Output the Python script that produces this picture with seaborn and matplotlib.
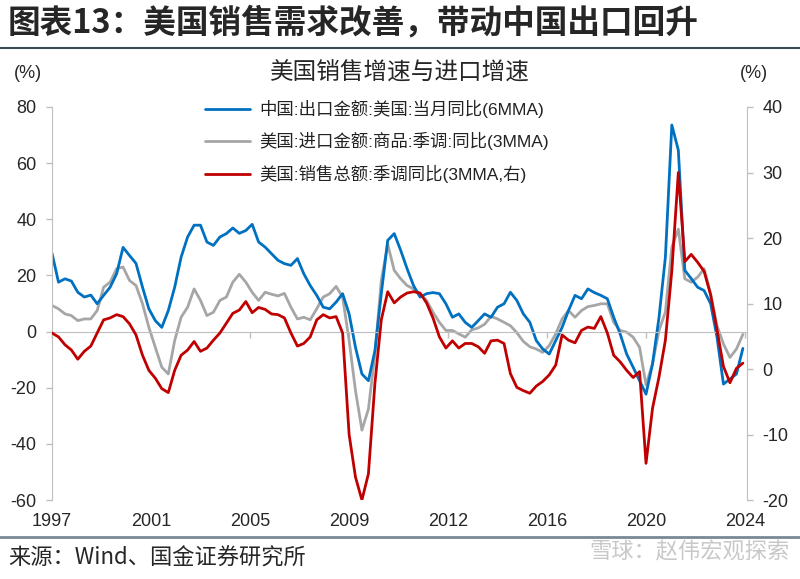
import pandas as pd
import numpy as np
import seaborn as sns
import matplotlib.pyplot as plt
from matplotlib.lines import Line2D

# quarterly readings, 1997-07 .. 2024-04
dates = pd.date_range('1997-07-01', periods=108, freq='3MS')

# 中国:出口金额:美国:当月同比(6MMA), left axis
cn_export_us = [27.9, 17.6, 18.8, 18.0, 14.0, 12.3, 13.0, 9.9, 12.9, 15.8,
                20.6, 30.0, 27.1, 24.3, 15.8, 8.1, 3.9, 1.5, 7.5, 15.8,
                26.5, 33.7, 37.9, 37.9, 31.9, 30.7, 33.7, 34.9, 36.9, 35.0,
                36.0, 38.2, 31.9, 30.1, 27.7, 25.4, 24.2, 23.6, 26.0, 20.6,
                16.4, 12.9, 8.7, 8.1, 10.5, 13.5, 6.3, -5.6, -15.1, -17.5,
                -6.8, 13.5, 32.5, 34.9, 28.9, 22.4, 16.4, 12.3, 13.5, 13.9,
                13.5, 9.9, 5.1, 6.3, 3.3, 1.5, 3.9, 6.3, 5.1, 8.7,
                9.9, 14.0, 11.1, 6.3, 3.3, -3.2, -6.2, -8.0, -3.2, 1.5,
                7.5, 12.9, 11.7, 15.2, 13.9, 12.9, 11.7, 5.1, -0.8, -8.0,
                -12.7, -17.5, -22.3, -11.5, 5.1, 26.5, 73.6, 64.6, 21.8, 18.9,
                15.8, 14.6, 9.9, -2.0, -18.7, -16.9, -15.1, -6.0]

# 美国:进口金额:商品:季调:同比(3MMA), left axis
us_import = [9.3, 8.1, 6.3, 5.7, 3.9, 4.5, 4.5, 7.5, 15.8, 17.6,
             22.4, 23.0, 18.2, 16.4, 9.9, 1.5, -5.6, -12.7, -15.1, -3.2,
             5.1, 8.7, 15.2, 11.1, 5.7, 6.9, 11.1, 12.3, 17.6, 20.4,
             17.6, 14.0, 11.1, 14.0, 13.3, 12.7, 13.6, 8.7, 4.5, 5.1,
             4.2, 8.1, 12.3, 13.5, 16.1, 12.3, -3.2, -21.0, -35.1, -27.6,
             -8.0, 18.2, 31.1, 21.8, 18.8, 16.4, 15.2, 13.5, 11.1, 6.9,
             3.3, 0.4, 0.4, -0.8, -2.0, 0.6, 1.3, 2.6, 5.4, 4.5,
             3.3, 2.1, -0.4, -3.5, -5.4, -6.2, -7.4, -5.0, -0.8, 4.5,
             7.5, 5.1, 7.5, 8.9, 9.3, 9.9, 9.9, 3.3, 0.4, -0.2,
             -2.0, -5.6, -19.0, -11.5, 0.4, 7.0, 30.1, 36.5, 18.8, 17.6,
             19.4, 22.4, 13.5, 2.1, -4.4, -9.2, -6.2, -1.0]

# 美国:销售总额:季调同比(3MMA), right axis
us_sales = [5.5, 4.9, 3.7, 2.9, 1.5, 2.7, 3.5, 5.5, 7.5, 7.8,
            8.3, 8.0, 6.9, 5.2, 2.1, -0.2, -1.4, -3.0, -3.6, -0.2,
            2.1, 2.9, 4.2, 2.7, 3.2, 4.4, 5.5, 7.0, 8.5, 9.0,
            10.3, 8.6, 9.4, 9.1, 8.4, 8.3, 7.8, 5.5, 3.5, 3.9,
            4.9, 7.5, 8.3, 7.8, 8.0, 5.5, -10.0, -16.5, -20.0, -16.0,
            -2.2, 7.5, 11.8, 10.1, 11.0, 11.6, 11.8, 11.6, 10.1, 7.8,
            4.9, 3.2, 4.3, 3.2, 3.9, 3.9, 3.4, 2.4, 4.3, 4.4,
            3.9, -0.7, -2.8, -3.3, -3.7, -2.6, -1.9, -0.9, 0.6, 5.2,
            4.4, 4.0, 5.9, 6.4, 6.2, 8.0, 5.5, 2.1, 1.1, -0.2,
            -1.3, -0.4, -14.4, -6.0, -1.2, 4.4, 15.0, 30.0, 16.4, 17.5,
            16.3, 14.9, 11.3, 6.0, 0.4, -2.1, 0.1, 0.9]

series_labels = ['中国:出口金额:美国:当月同比(6MMA)',
                 '美国:进口金额:商品:季调:同比(3MMA)',
                 '美国:销售总额:季调同比(3MMA,右)']
colors = ['#0070C0', '#A6A6A6', '#C00000']

# Excel-style category labels every 46 months
tick_dates = pd.date_range('1997-07-01', periods=8, freq='46MS')
tick_labels = [str(d.year) for d in tick_dates]

df = pd.DataFrame({'date': dates, 'cn': cn_export_us,
                   'imp': us_import, 'sales': us_sales})

sns.set_style('white')
plt.rcParams['font.family'] = ['Liberation Sans', 'Noto Sans CJK SC', 'DejaVu Sans']
plt.rcParams['axes.unicode_minus'] = False
cjk = ['Noto Sans CJK SC', 'DejaVu Sans']
axis_gray = '#BFBFBF'

fig = plt.figure(figsize=(8, 5.79), dpi=100)
ax = fig.add_axes([0.065, 0.1364, 0.869, 0.6788])
ax2 = ax.twinx()

sns.lineplot(data=df, x='date', y='imp', ax=ax, color=colors[1], lw=2, legend=False)
h_imp = ax.lines[-1]
sns.lineplot(data=df, x='date', y='cn', ax=ax, color=colors[0], lw=2, legend=False)
h_cn = ax.lines[-1]
sns.lineplot(data=df, x='date', y='sales', ax=ax2, color=colors[2], lw=2, legend=False)
h_sales = ax2.lines[-1]

ax.set_xlim(pd.Timestamp('1997-07-01'), pd.Timestamp('2024-06-01'))
ax.set_ylim(-60, 80)
ax.set_yticks(range(-60, 81, 20))
ax2.set_ylim(-20, 40)
ax2.set_yticks(range(-20, 41, 10))
ax.set_xticks(tick_dates, tick_labels)
for a in (ax, ax2):
    a.set_xlabel('')
    a.set_ylabel('')
    a.grid(False)

# spines
ax.spines['top'].set_visible(False)
ax.spines['right'].set_visible(False)
ax.spines['left'].set_color(axis_gray)
ax.spines['bottom'].set_position(('data', 0))
ax.spines['bottom'].set_color(axis_gray)
for s in ('top', 'left', 'bottom'):
    ax2.spines[s].set_visible(False)
ax2.spines['right'].set_color(axis_gray)

ax.tick_params(axis='y', direction='out', length=4, width=1, color=axis_gray,
               labelsize=13, pad=7, left=True)
ax.tick_params(axis='x', direction='out', length=4, width=1, color=axis_gray,
               labelbottom=False, bottom=True)
ax2.tick_params(axis='y', direction='out', length=4, width=1, color=axis_gray,
                labelsize=13, pad=7, right=True)
# year labels sit at the bottom of the frame, tick marks stay on the zero line
ax2.xaxis.set_visible(True)
ax2.tick_params(axis='x', length=0, labelbottom=True, labelsize=13, pad=9)

# header
fig.text(8 / 800, 1 - 23 / 579, '图表13：美国销售需求改善，带动中国出口回升',
         fontsize=23.5, fontweight='bold', family=cjk, ha='left', va='center')
fig.add_artist(Line2D([0, 1], [1 - 48 / 579] * 2, color='#3B4A57', lw=1.5))

fig.text(0.5, 1 - 73 / 579, '美国销售增速与进口增速', fontsize=17,
         family=cjk, ha='center', va='center')
fig.text(28 / 800, 1 - 73 / 579, '(%)', fontsize=13, ha='center', va='center')
fig.text(754 / 800, 1 - 73 / 579, '(%)', fontsize=13, ha='center', va='center')

leg = fig.legend([h_cn, h_imp, h_sales], series_labels, loc='upper left',
                 bbox_to_anchor=(205 / 800, 1 - 100 / 579), frameon=False,
                 prop={'family': ['Liberation Sans', 'Noto Sans CJK SC'], 'size': 12.5},
                 handlelength=2.6, handletextpad=0.5, labelspacing=0.82,
                 borderpad=0, borderaxespad=0)
for t in leg.get_texts():
    t.set_color('#222222')

# footer
fig.add_artist(Line2D([0, 1], [1 - 537 / 579] * 2, color='#7A8894', lw=2))
fig.text(8 / 800, 1 - 558 / 579, '来源：Wind、国金证券研究所', fontsize=16,
         family=cjk, ha='left', va='center')
fig.text(790 / 800, 1 - 552 / 579, '雪球：赵伟宏观探索', fontsize=16,
         color='#C8C8C8', family=cjk, ha='right', va='center')

fig.savefig('out.png', dpi=100)
